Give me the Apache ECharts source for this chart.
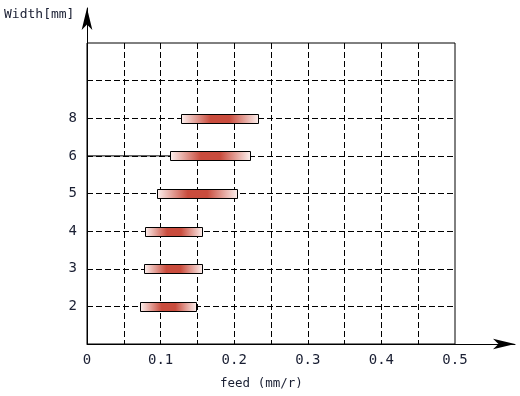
<!DOCTYPE html>
<html>
<head>
<meta charset="utf-8">
<script src="https://cdn.jsdelivr.net/npm/echarts@6/dist/echarts.min.js"></script>
<style>html,body{margin:0;padding:0;background:#fff;}#c{width:520px;height:396px;}</style>
</head>
<body>
<div id="c"></div>
<script>
var widths = ['2', '3', '4', '5', '6', '8'];
var feedMin = [0.072, 0.078, 0.079, 0.095, 0.113, 0.128];
var feedMax = [0.148, 0.157, 0.157, 0.204, 0.222, 0.232];
var xTickLabels = ['0', '0.1', '0.2', '0.3', '0.4', '0.5'];
var xTickValues = [0, 0.1, 0.2, 0.3, 0.4, 0.5];

var FONT = '"DejaVu Sans Mono", "Liberation Mono", monospace';
var TXT = '#1a1f33';

var barData = widths.map(function (w, i) { return [feedMin[i], feedMax[i], i + 1]; });
var grad = new echarts.graphic.LinearGradient(0, 0, 1, 0, [
  { offset: 0, color: '#fdf2f0' },
  { offset: 0.38, color: '#c94c3d' },
  { offset: 0.62, color: '#c94c3d' },
  { offset: 1, color: '#fdf2f0' }
]);

var chart = echarts.init(document.getElementById('c'), null, { renderer: 'canvas' });
chart.setOption({
  animation: false,
  title: [
    { text: 'Width[mm]', left: 4, top: 8, padding: 0, textStyle: { fontFamily: FONT, fontSize: 13, fontWeight: 'normal', color: TXT } },
    { text: 'feed (mm/r)', left: 220, top: 377, padding: 0, textStyle: { fontFamily: FONT, fontSize: 12.5, fontWeight: 'normal', color: TXT } }
  ],
  grid: [
    { left: 87, right: 65, top: 43, bottom: 52, show: true, borderColor: '#000', borderWidth: 1, backgroundColor: 'transparent' },
    { left: 87, right: 5, top: 8, bottom: 52, show: false }
  ],
  xAxis: [
    {
      type: 'value', gridIndex: 0, min: 0, max: 0.5, interval: 0.05,
      axisLine: { show: false }, axisTick: { show: false },
      axisLabel: {
        margin: 9, fontFamily: FONT, fontSize: 14, color: TXT,
        formatter: function (v) {
          for (var k = 0; k < xTickValues.length; k++) {
            if (Math.abs(v - xTickValues[k]) < 1e-6) return xTickLabels[k];
          }
          return '';
        }
      },
      splitLine: { show: true, showMinLine: false, showMaxLine: false, lineStyle: { color: '#000', type: [6, 3], width: 1 } }
    },
    {
      type: 'value', gridIndex: 1, min: 0, max: 1,
      axisLine: { show: true, onZero: false, lineStyle: { color: '#000', width: 1 }, symbol: ['none', 'arrow'], symbolSize: [8, 22] },
      axisTick: { show: false }, axisLabel: { show: false }, splitLine: { show: false }
    }
  ],
  yAxis: [
    {
      type: 'value', gridIndex: 0, min: 0, max: 8, interval: 1,
      axisLine: { show: false }, axisTick: { show: false },
      axisLabel: {
        margin: 10, fontFamily: FONT, fontSize: 14, color: TXT,
        formatter: function (v) { var i = Math.round(v) - 1; return (i >= 0 && i < widths.length) ? widths[i] : ''; }
      },
      splitLine: { show: true, showMinLine: false, showMaxLine: false, lineStyle: { color: '#000', type: [6, 3], width: 1 } }
    },
    {
      type: 'value', gridIndex: 1, min: 0, max: 1,
      axisLine: { show: true, onZero: false, lineStyle: { color: '#000', width: 1 }, symbol: ['none', 'arrow'], symbolSize: [8, 22] },
      axisTick: { show: false }, axisLabel: { show: false }, splitLine: { show: false }
    }
  ],
  series: [
    {
      type: 'line', xAxisIndex: 0, yAxisIndex: 0, symbol: 'none', silent: true,
      lineStyle: { color: '#000', width: 1 },
      data: [[0, 5], [feedMin[4], 5]]
    },
    {
      type: 'custom', xAxisIndex: 0, yAxisIndex: 0,
      data: barData,
      renderItem: function (params, api) {
        var s = api.coord([api.value(0), api.value(2)]);
        var e = api.coord([api.value(1), api.value(2)]);
        var h = 9;
        return {
          type: 'rect',
          shape: { x: Math.round(s[0]) + 0.5, y: Math.round(s[1] - h / 2) + 0.5, width: Math.round(e[0] - s[0]), height: h },
          style: { fill: grad, stroke: '#000', lineWidth: 1 }
        };
      }
    }
  ]
});
</script>
</body>
</html>
